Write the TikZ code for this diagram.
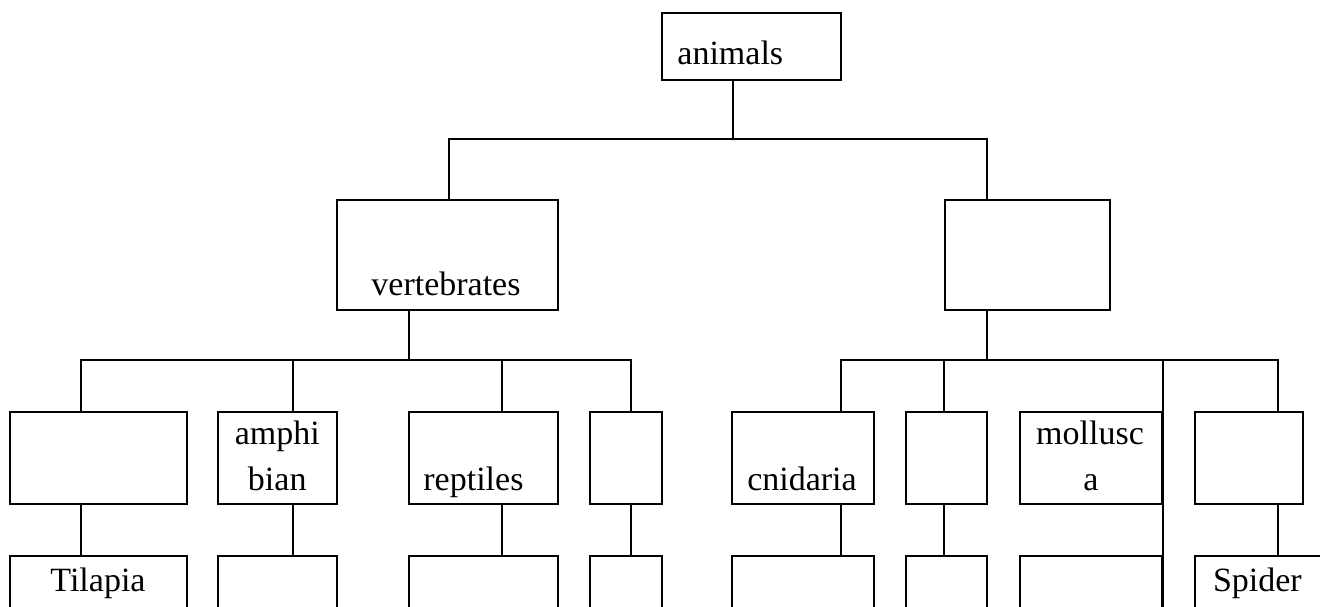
\documentclass[tikz,border=0pt]{standalone}
\usepackage{fontspec}
\setmainfont{Liberation Serif}
\begin{document}
\begin{tikzpicture}[x=0.5pt,y=-0.5pt,
  box/.style={draw, rectangle, inner sep=0pt, line width=1pt},
  lbl/.style={inner sep=0pt, font=\fontsize{17}{20}\selectfont},
  wire/.style={line width=1pt}]
\useasboundingbox (0,0) rectangle (1320,606);
\clip (0,0) rectangle (1320,606);
% level 1
\node[box, minimum width=89.7pt, minimum height=33.65pt] (animals) at (751.3,46.4) {};
% level 2
\node[box, minimum width=110.7pt, minimum height=55pt] (vert) at (447.3,255) {};
\node[box, minimum width=82.5pt, minimum height=55pt] (inv) at (1027.5,255) {};
% level 3
\node[box, minimum width=88.4pt, minimum height=46.3pt] (fish) at (98.2,458) {};
\node[box, minimum width=59.35pt, minimum height=46.3pt] (amph) at (277.25,458) {};
\node[box, minimum width=74.35pt, minimum height=46.3pt] (rept) at (483.25,458) {};
\node[box, minimum width=36.15pt, minimum height=46.3pt] (bird) at (625.85,458) {};
\node[box, minimum width=70.8pt, minimum height=46.3pt] (cnid) at (803.2,458) {};
\node[box, minimum width=40.55pt, minimum height=46.3pt] (worm) at (946.05,458) {};
\node[box, minimum width=70.8pt, minimum height=46.3pt] (moll) at (1090.8,458) {};
\node[box, minimum width=53.9pt, minimum height=46.3pt] (arth) at (1248.9,458) {};
% level 4
\node[box, minimum width=88.4pt, minimum height=50pt] (fishB) at (98.2,606) {};
\node[box, minimum width=59.35pt, minimum height=50pt] (amphB) at (277.25,606) {};
\node[box, minimum width=74.35pt, minimum height=50pt] (reptB) at (483.25,606) {};
\node[box, minimum width=36.15pt, minimum height=50pt] (birdB) at (625.85,606) {};
\node[box, minimum width=70.8pt, minimum height=50pt] (cnidB) at (803.2,606) {};
\node[box, minimum width=40.55pt, minimum height=50pt] (wormB) at (946.05,606) {};
\node[box, minimum width=70.8pt, minimum height=50pt] (mollB) at (1090.8,606) {};
\node[box, minimum width=72.5pt, minimum height=50pt] (arthB) at (1267.5,606) {};
% texts
\node[lbl, anchor=base west] (tanimals) at (677,64) {animals};
\node[lbl, anchor=base west] (tvert) at (371,295) {vertebrates};
\node[lbl, anchor=base] (tamph1) at (277.25,444) {amphi};
\node[lbl, anchor=base] (tamph2) at (277.25,490) {bian};
\node[lbl, anchor=base west] (trept) at (423,490) {reptiles};
\node[lbl, anchor=base] (tcnid) at (802,490) {cnidaria};
\node[lbl, anchor=base] (tmoll1) at (1090,444) {mollusc};
\node[lbl, anchor=base] (tmoll2) at (1091,490) {a};
\node[lbl, anchor=base] (ttil) at (98,591.7) {Tilapia};
\node[lbl, anchor=base west] (tspid) at (1212.6,591.7) {Spider};
% connectors
\coordinate (j0) at (733,138.7);
\draw[wire] (animals.south -| j0) -- (j0);
\draw[wire] (vert.north -| 448.7,0) -- (448.7,138.7) -- (986.6,138.7) -- (inv.north -| 986.6,0);
% left bus
\draw[wire] (vert.south -| 408.5,0) -- (408.5,360);
\draw[wire] (fish.north -| 80.8,0) -- (80.8,360) -- (630.8,360) -- (bird.north -| 630.8,0);
\draw[wire] (amph.north -| 292.9,0) -- (292.9,360);
\draw[wire] (rept.north -| 501.8,0) -- (501.8,360);
% right bus
\draw[wire] (inv.south -| 986.6,0) -- (986.6,360);
\draw[wire] (cnid.north -| 841,0) -- (841,360) -- (1277.5,360) -- (arth.north -| 1277.5,0);
\draw[wire] (worm.north -| 944,0) -- (944,360);
\draw[wire] (mollB.south east) -- (mollB.south east |- 0,360);
% level 3 to 4
\draw[wire] (fish.south -| 80.8,0) -- (fishB.north -| 80.8,0);
\draw[wire] (amph.south -| 292.9,0) -- (amphB.north -| 292.9,0);
\draw[wire] (rept.south -| 501.8,0) -- (reptB.north -| 501.8,0);
\draw[wire] (bird.south -| 630.8,0) -- (birdB.north -| 630.8,0);
\draw[wire] (cnid.south -| 841,0) -- (cnidB.north -| 841,0);
\draw[wire] (worm.south -| 944,0) -- (wormB.north -| 944,0);
\draw[wire] (arth.south -| 1277.5,0) -- (arthB.north -| 1277.5,0);
\end{tikzpicture}
\end{document}
